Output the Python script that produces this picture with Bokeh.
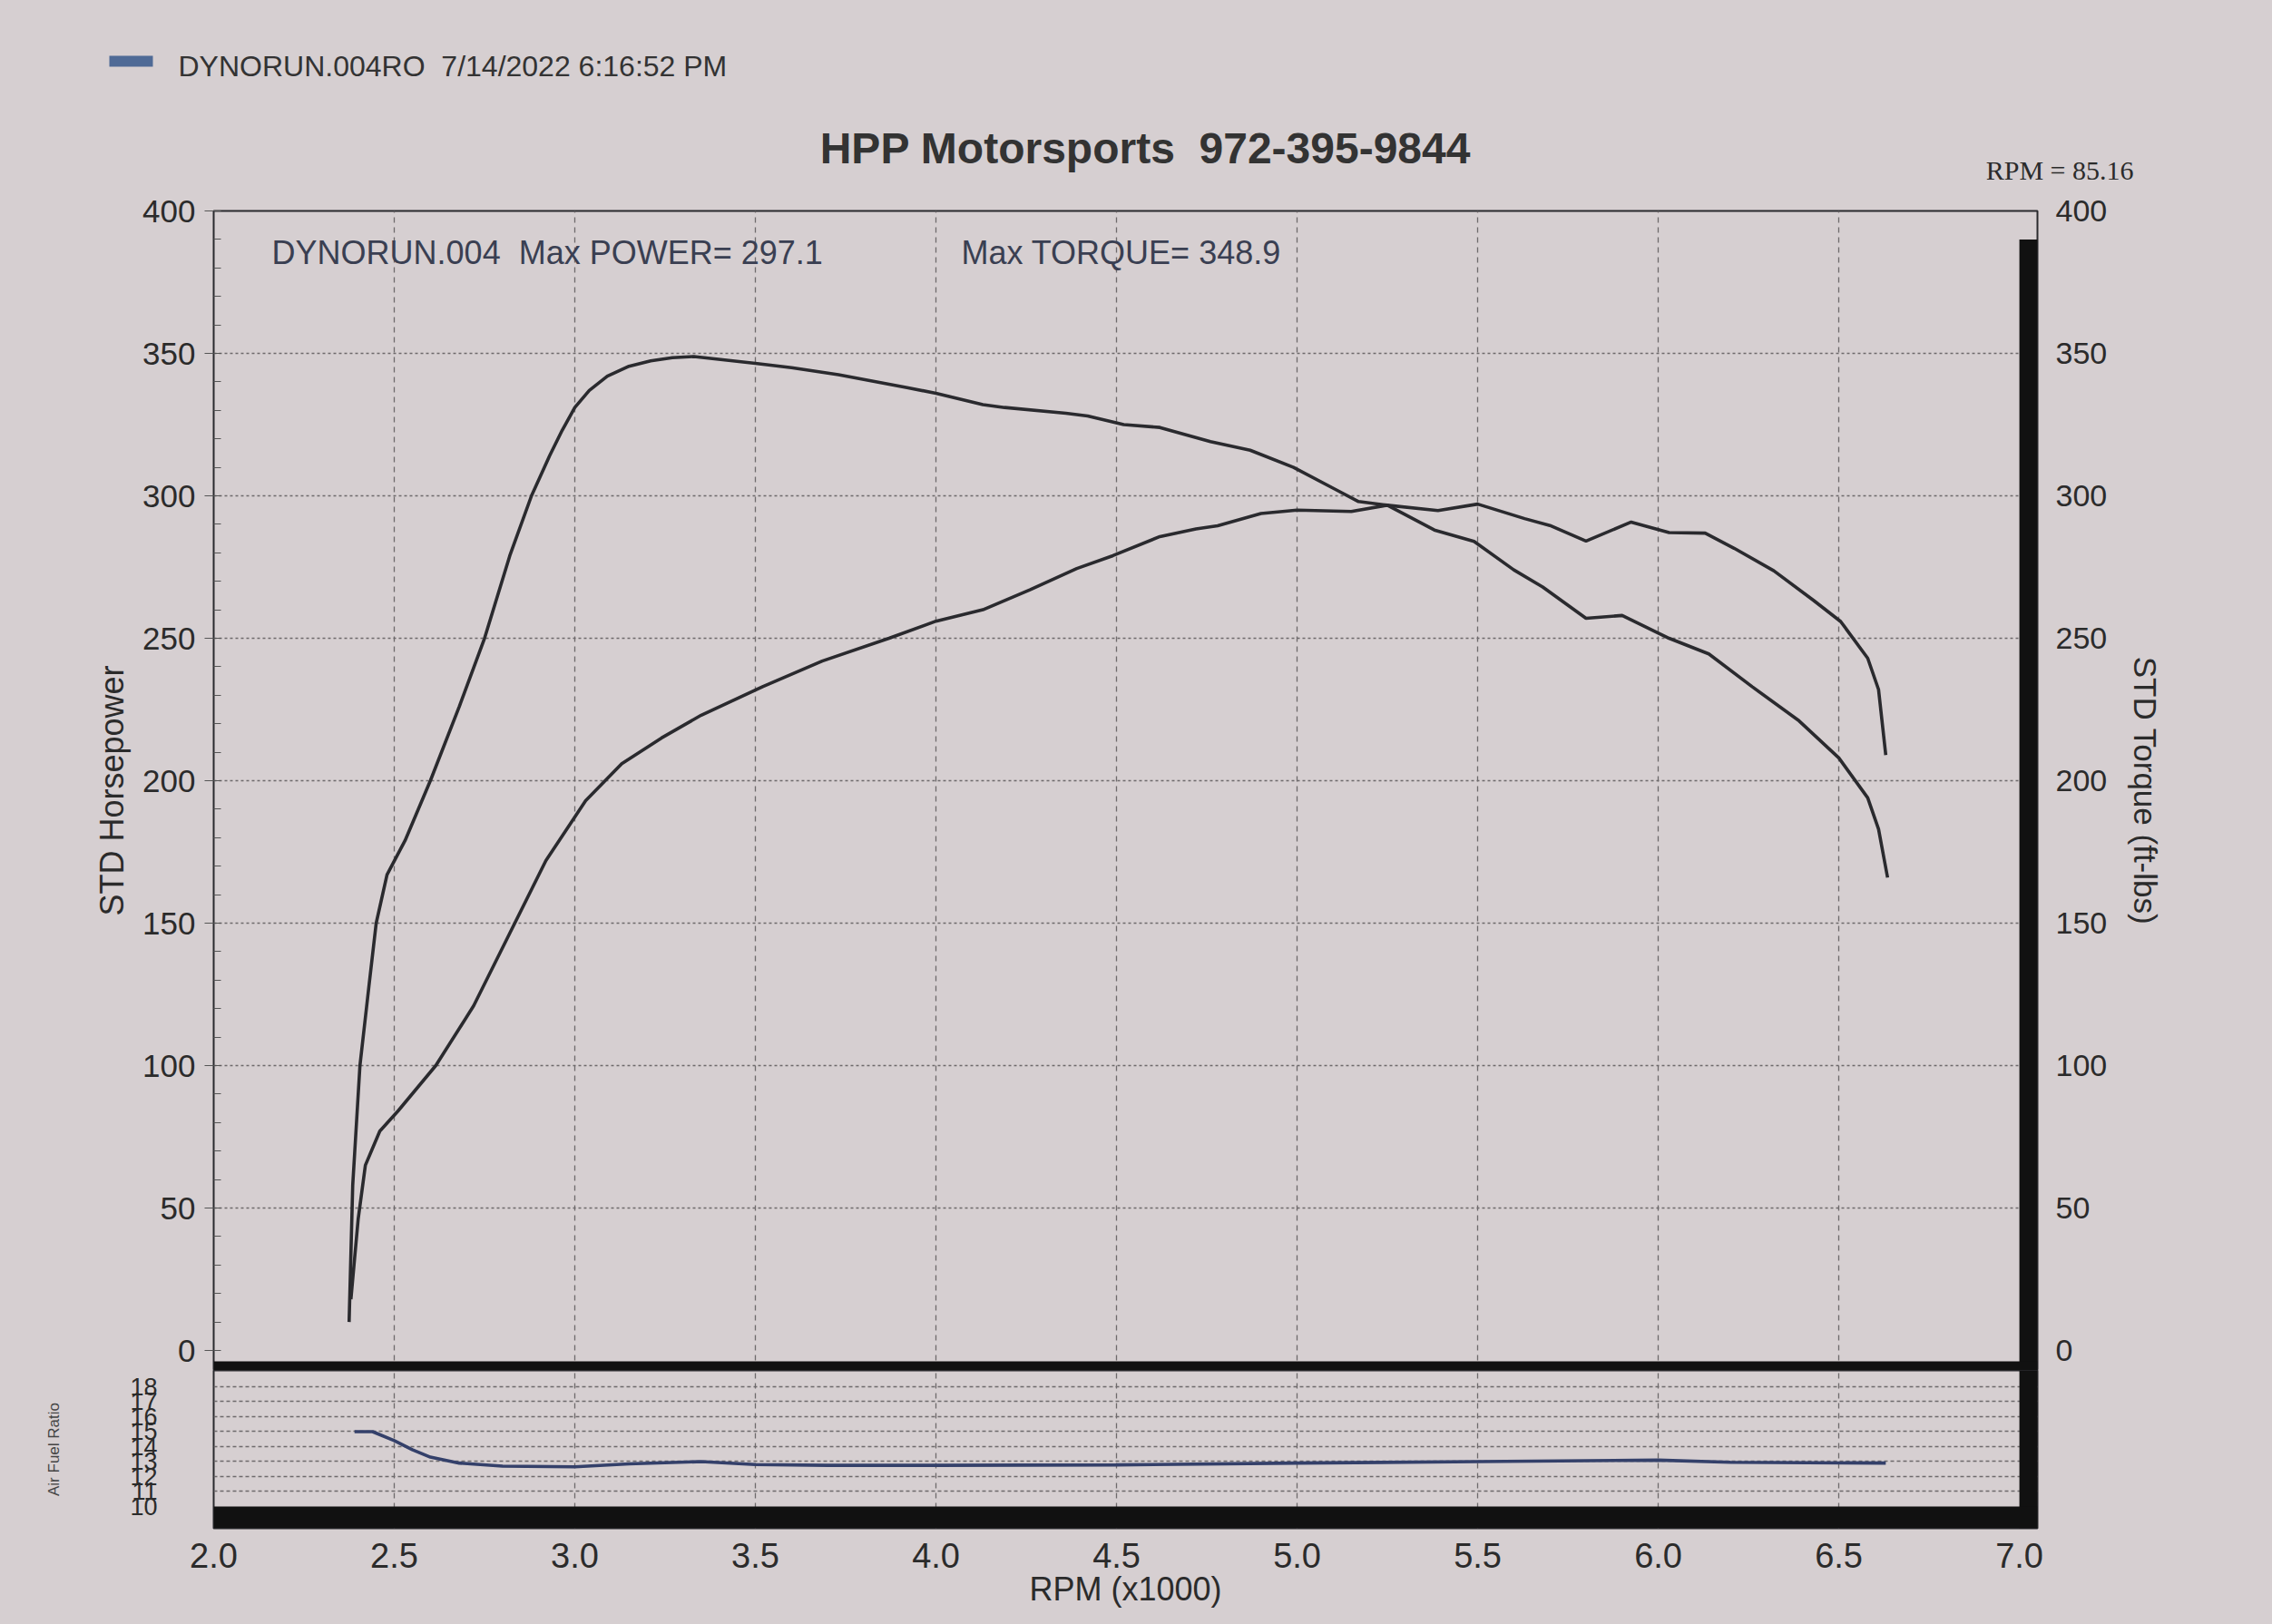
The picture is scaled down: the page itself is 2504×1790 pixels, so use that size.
from bokeh.plotting import figure
from bokeh.models import (Range1d, LinearAxis, FixedTicker, Label, BoxAnnotation,
                          Grid, NumeralTickFormatter)
from bokeh.layouts import column
from bokeh.embed import file_html
from bokeh.resources import INLINE

# ---------------- data (read from the dyno sheet) ----------------
rpm_tq = [2.375, 2.385, 2.405, 2.43, 2.45, 2.48, 2.53, 2.60, 2.68, 2.75, 2.82, 2.88,
          2.93, 2.965, 3.00, 3.04, 3.09, 3.15, 3.21, 3.27, 3.33, 3.50, 3.60, 3.73,
          3.92, 4.00, 4.13, 4.19, 4.36, 4.42, 4.52, 4.62, 4.76, 4.87, 4.99, 5.11,
          5.17, 5.25, 5.38, 5.49, 5.60, 5.68, 5.80, 5.90, 6.03, 6.14, 6.26, 6.39,
          6.50, 6.58, 6.61, 6.635]
torque = [10, 58, 100, 128, 150, 167, 179, 200, 226, 250, 279, 300,
          314, 323, 331, 337, 342, 345.5, 347.4, 348.5, 348.9, 346.5, 345, 342.5,
          338, 336, 332, 331, 329, 328, 325, 324, 319, 316, 310, 302,
          298, 296.7, 288, 284, 274, 268, 257, 258, 250, 244.5, 233, 221,
          208, 194, 183, 166]

rpm_hp = [2.38, 2.40, 2.42, 2.46, 2.51, 2.615, 2.72, 2.82, 2.92, 3.03, 3.13, 3.24,
          3.35, 3.52, 3.685, 3.87, 4.00, 4.13, 4.26, 4.39, 4.49, 4.62, 4.72, 4.78,
          4.90, 5.00, 5.15, 5.25, 5.39, 5.50, 5.63, 5.70, 5.80, 5.925, 6.03, 6.13,
          6.21, 6.32, 6.43, 6.505, 6.58, 6.61, 6.63]
hp = [18, 46, 65, 77, 84, 100, 121, 146.5, 172, 193, 206, 215,
      223, 233, 242, 250, 256, 260, 267, 274.5, 279, 285.7, 288.4, 289.5,
      293.8, 295, 294.5, 296.7, 294.8, 297.1, 292, 289.6, 284.1, 290.8, 287.1, 286.9,
      281.6, 273.7, 263.3, 255.9, 243, 232, 209]

rpm_afr = [2.39, 2.44, 2.50, 2.55, 2.60, 2.68, 2.80, 3.00, 3.15, 3.35, 3.50, 3.70,
           4.00, 4.50, 5.00, 5.50, 6.00, 6.20, 6.63]
afr = [15.0, 15.0, 14.4, 13.8, 13.3, 12.9, 12.7, 12.65, 12.85, 13.0, 12.8, 12.75,
       12.75, 12.78, 12.9, 13.0, 13.1, 12.95, 12.9]

x_ticks = [2.0, 2.5, 3.0, 3.5, 4.0, 4.5, 5.0, 5.5, 6.0, 6.5, 7.0]
x_grid = [2.5, 3.0, 3.5, 4.0, 4.5, 5.0, 5.5, 6.0, 6.5]
y_ticks = [0, 50, 100, 150, 200, 250, 300, 350, 400]
y_grid = [50, 100, 150, 200, 250, 300, 350]
afr_ticks = [10, 11, 12, 13, 14, 15, 16, 17, 18]
afr_grid = [11, 12, 13, 14, 15, 16, 17, 18]

NB = "\u00a0"
title_text = "HPP Motorsports" + NB + NB + "972-395-9844"
legend_text = "DYNORUN.004RO" + NB + NB + "7/14/2022 6:16:52 PM"
power_text = "DYNORUN.004" + NB + NB + "Max POWER= 297.1"
torque_text = "Max TORQUE= 348.9"
rpm_text = "RPM = 85.16"

# ---------------- style ----------------
BG = "#d6cfd1"
INK = "#2a2a2e"
TXT = "#2b2b2b"
FONT = "Liberation Sans"
GRIDC = "#6e6a6c"
AFRC = "#34406a"
SWATCH = "#4f6a96"
LW = 3.6

xr = Range1d(2.0, 7.05)

# ---------------- header strip (titles and run legend), pixel-like coordinates ----------------
HH = 208
h = figure(width=2504, height=HH, x_range=Range1d(0, 2504), y_range=Range1d(HH, 0),
           output_backend="svg", toolbar_location=None, x_axis_location=None,
           y_axis_location=None, min_border=0)
h.frame_align = False
h.background_fill_color = BG
h.border_fill_color = BG
h.outline_line_color = None
h.grid.visible = False
h.add_layout(Label(x=1262, y=163, text=title_text, text_align="center",
                   text_baseline="middle", text_font=FONT, text_font_style="bold",
                   text_font_size="48px", text_color="#333333"))
h.add_layout(Label(x=2351, y=187, text=rpm_text, text_align="right",
                   text_baseline="middle", text_font="Liberation Serif",
                   text_font_size="30px", text_color="#2b2b2b"))
h.add_layout(BoxAnnotation(left=120, right=168, top=61, bottom=73, fill_color=SWATCH,
                           fill_alpha=1, line_color=None))
h.add_layout(Label(x=196, y=72, text=legend_text, text_baseline="middle",
                   text_font=FONT, text_font_size="32px", text_color="#333333"))

# ---------------- main (power / torque) panel ----------------
p = figure(width=2504, height=1302, x_range=xr, y_range=Range1d(-7.0, 400),
           output_backend="svg", toolbar_location=None, x_axis_location=None,
           min_border_left=235, min_border_right=259, min_border_top=24,
           min_border_bottom=0)
p.background_fill_color = BG
p.border_fill_color = BG
p.outline_line_color = INK
p.outline_line_width = 2
p.grid.visible = False

p.add_layout(Grid(dimension=0, ticker=FixedTicker(ticks=x_grid), grid_line_color=GRIDC,
                  grid_line_dash="6 5", grid_line_width=1.3))
p.add_layout(Grid(dimension=1, ticker=FixedTicker(ticks=y_grid), grid_line_color=GRIDC,
                  grid_line_dash="3 3", grid_line_width=1.5))

ya = p.yaxis[0]
ya.ticker = FixedTicker(ticks=y_ticks, minor_ticks=list(range(0, 401, 10)))
ya.axis_label = "STD Horsepower"
ya.axis_line_color = None
ya.major_tick_out = 10
ya.major_tick_in = 0
ya.minor_tick_in = 8
ya.minor_tick_out = 0
ya.major_tick_line_color = "#555555"
ya.minor_tick_line_color = "#555555"
ya.major_label_standoff = 10
ya.axis_label_standoff = 10
ya.major_label_text_font = FONT
ya.major_label_text_font_size = "35px"
ya.major_label_text_color = TXT
ya.axis_label_text_font = FONT
ya.axis_label_text_font_size = "36px"
ya.axis_label_text_font_style = "normal"
ya.axis_label_text_color = TXT

p.extra_y_ranges = {"tq": Range1d(-7.0, 400)}
ra = LinearAxis(y_range_name="tq", ticker=FixedTicker(ticks=y_ticks),
                axis_label="STD Torque (ft-lbs)")
ra.axis_line_color = None
ra.major_tick_out = 0
ra.major_tick_in = 0
ra.minor_tick_in = 0
ra.minor_tick_out = 0
ra.major_label_standoff = 20
ra.axis_label_standoff = 20
ra.major_label_text_font = FONT
ra.major_label_text_font_size = "34px"
ra.major_label_text_color = TXT
ra.axis_label_text_font = FONT
ra.axis_label_text_font_size = "35px"
ra.axis_label_text_font_style = "normal"
ra.axis_label_text_color = TXT
p.add_layout(ra, "right")

# heavy frame bars (right edge and the divider under the 0 line)
p.add_layout(BoxAnnotation(left=7.0, top=390, fill_color="#111111", fill_alpha=1,
                           line_color=None))
p.add_layout(BoxAnnotation(top=-3.8, fill_color="#111111", fill_alpha=1, line_color=None))

p.line(rpm_tq, torque, y_range_name="tq", line_color=INK, line_width=LW)
p.line(rpm_hp, hp, line_color=INK, line_width=LW)

p.add_layout(Label(x=2.161, y=385.3, text=power_text, text_baseline="middle",
                   text_font=FONT, text_font_size="36px", text_color="#3a3f52"))
p.add_layout(Label(x=4.07, y=385.3, text=torque_text, text_baseline="middle",
                   text_font=FONT, text_font_size="36px", text_color="#3a3f52"))

# ---------------- air/fuel ratio panel ----------------
q = figure(width=2504, height=280, x_range=xr, y_range=Range1d(8.545, 19.09),
           output_backend="svg", toolbar_location=None,
           min_border_left=235, min_border_right=259, min_border_top=0,
           min_border_bottom=106)
q.background_fill_color = BG
q.border_fill_color = BG
q.outline_line_color = INK
q.outline_line_width = 2
q.grid.visible = False
q.add_layout(Grid(dimension=0, ticker=FixedTicker(ticks=x_grid), grid_line_color=GRIDC,
                  grid_line_dash="6 5", grid_line_width=1.3))
q.add_layout(Grid(dimension=1, ticker=FixedTicker(ticks=afr_grid),
                  grid_line_color=GRIDC, grid_line_dash="4 3", grid_line_width=1.6))

q.add_layout(BoxAnnotation(left=7.0, fill_color="#111111", fill_alpha=1, line_color=None))
q.add_layout(BoxAnnotation(top=10, fill_color="#111111", fill_alpha=1, line_color=None))

q.line(rpm_afr, afr, line_color=AFRC, line_width=LW)

xa = q.xaxis[0]
xa.ticker = FixedTicker(ticks=x_ticks)
xa.formatter = NumeralTickFormatter(format="0.0")
xa.axis_label = "RPM (x1000)"
xa.axis_line_color = None
xa.major_tick_out = 0
xa.major_tick_in = 0
xa.minor_tick_in = 0
xa.minor_tick_out = 0
xa.major_label_standoff = 16
xa.axis_label_standoff = 0
xa.major_label_text_font = FONT
xa.major_label_text_font_size = "38px"
xa.major_label_text_color = TXT
xa.axis_label_text_font = FONT
xa.axis_label_text_font_size = "36px"
xa.axis_label_text_font_style = "normal"
xa.axis_label_text_color = TXT

qa = q.yaxis[0]
qa.ticker = FixedTicker(ticks=afr_ticks)
qa.axis_label = "Air Fuel Ratio"
qa.axis_line_color = None
qa.major_tick_out = 0
qa.major_tick_in = 0
qa.minor_tick_in = 0
qa.minor_tick_out = 0
qa.major_label_standoff = 62
qa.axis_label_standoff = 71
qa.major_label_text_font = FONT
qa.major_label_text_font_size = "27px"
qa.major_label_text_color = TXT
qa.axis_label_text_font = FONT
qa.axis_label_text_font_size = "17px"
qa.axis_label_text_font_style = "normal"
qa.axis_label_text_color = "#444444"

layout = column(h, p, q, spacing=0)
html = file_html(layout, INLINE)
html = html.replace("</head>", "<style>html,body{margin:0;padding:0;background:%s;}</style></head>" % BG, 1)
open("out.html", "w").write(html)
